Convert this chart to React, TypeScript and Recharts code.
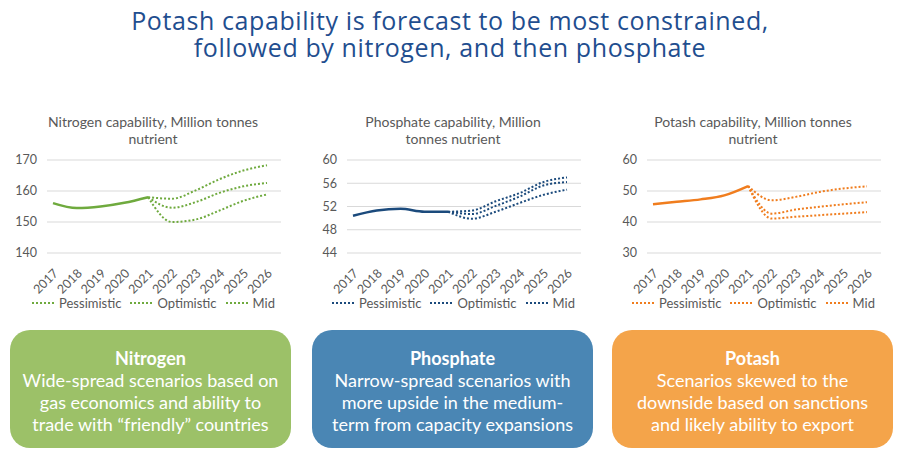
import { LineChart, Line, XAxis, YAxis, CartesianGrid, Legend } from 'recharts';

const years = ['2017', '2018', '2019', '2020', '2021', '2022', '2023', '2024', '2025', '2026'];

// Nitrogen, Mt nutrient
const nitrogenActual = [156.1, 154.5, 155, 156.2, 158, null, null, null, null, null];
const nitrogenPessimistic = [null, null, null, null, 158, 150, 150.8, 153.7, 156.8, 158.9];
const nitrogenOptimistic = [null, null, null, null, 158, 157.5, 160.2, 163.8, 166.6, 168.3];
const nitrogenMid = [null, null, null, null, 158, 154.6, 156.4, 159.4, 161.5, 162.6];

// Phosphate
const phosphateActual = [50.4, 51.3, 51.6, 51.1, 51.1, null, null, null, null, null];
const phosphatePessimistic = [null, null, null, null, 51.1, 49.9, 51.1, 52.6, 54.0, 54.9];
const phosphateOptimistic = [null, null, null, null, 51.1, 51.3, 52.9, 54.3, 56.2, 57.0];
const phosphateMid = [null, null, null, null, 51.1, 50.7, 52.1, 53.7, 55.6, 56.2];

// Potash
const potashActual = [45.7, 46.5, 47.3, 48.6, 51.6, null, null, null, null, null];
const potashPessimistic = [null, null, null, null, 51.6, 41.1, 41.7, 42.2, 42.7, 43.2];
const potashOptimistic = [null, null, null, null, 51.6, 47.0, 48.1, 49.7, 50.8, 51.5];
const potashMid = [null, null, null, null, 51.6, 42.7, 44.0, 44.9, 45.7, 46.4];

const nitrogenTicks = [140, 150, 160, 170];
const phosphateTicks = [44, 48, 52, 56, 60];
const potashTicks = [30, 40, 50, 60];

const scenarioNames = ['Pessimistic', 'Optimistic', 'Mid'];

const FONT = 'Lato, "Open Sans", sans-serif';
const GREY = '#595959';

function buildRows(actual: (number | null)[], pess: (number | null)[], opt: (number | null)[], mid: (number | null)[]) {
  return years.map((year, i) => ({
    year,
    actual: actual[i],
    Pessimistic: pess[i],
    Optimistic: opt[i],
    Mid: mid[i],
  }));
}

const YearTick = ({ x, y, payload }: any) => (
  <text
    x={0}
    y={0}
    transform={`translate(${x + 6}, ${y + 13}) rotate(-45)`}
    textAnchor="end"
    fontSize={12.5}
    fill={GREY}
    fontFamily={FONT}
  >
    {payload.value}
  </text>
);

const ScenarioLegend = ({ color }: { color: string }) => (
  <div style={{ display: 'flex', justifyContent: 'center', fontFamily: FONT, fontSize: 13, color: GREY }}>
    {scenarioNames.map((name) => (
      <div key={name} style={{ display: 'flex', alignItems: 'center', margin: '0 4px' }}>
        <svg width={24} height={6} style={{ marginRight: 4 }}>
          <line x1={1} y1={3} x2={24} y2={3} stroke={color} strokeWidth={2} strokeDasharray="2 2" />
        </svg>
        <span>{name}</span>
      </div>
    ))}
  </div>
);

interface PanelProps {
  left: number;
  title: string[];
  data: ReturnType<typeof buildRows>;
  domain: [number, number];
  ticks: number[];
  color: string;
}

function CapabilityPanel({ left, title, data, domain, ticks, color }: PanelProps) {
  return (
    <div style={{ position: 'absolute', left, top: 0, width: 300, height: 320 }}>
      <div
        style={{
          position: 'absolute',
          top: 113,
          left: 0,
          width: 306,
          textAlign: 'center',
          fontFamily: FONT,
          fontSize: 14,
          lineHeight: '17px',
          color: GREY,
        }}
      >
        {title.map((t) => (
          <div key={t}>{t}</div>
        ))}
      </div>
      <LineChart width={300} height={320} data={data} margin={{ top: 160, right: 19, bottom: 0, left: 0 }}>
        <CartesianGrid vertical={false} stroke="#d9d9d9" />
        <XAxis
          dataKey="year"
          axisLine={false}
          tickLine={false}
          height={67}
          interval={0}
          padding={{ left: 6, right: 14 }}
          tick={<YearTick />}
        />
        <YAxis
          width={47}
          domain={domain}
          ticks={ticks}
          axisLine={false}
          tickLine={false}
          tickSize={0}
          tickMargin={10}
          tick={{ fontSize: 12.5, fill: GREY, fontFamily: FONT }}
        />
        <Legend
          layout="horizontal"
          verticalAlign="middle"
          align="center"
          wrapperStyle={{ top: 295, left: 0, width: 306 }}
          content={() => <ScenarioLegend color={color} />}
        />
        <Line type="monotone" dataKey="actual" stroke={color} strokeWidth={2.5} dot={false} legendType="none" isAnimationActive={false} />
        {scenarioNames.map((name) => (
          <Line
            key={name}
            type="monotone"
            dataKey={name}
            stroke={color}
            strokeWidth={2}
            strokeDasharray="2 2"
            dot={false}
            isAnimationActive={false}
          />
        ))}
      </LineChart>
    </div>
  );
}

const boxes = [
  { left: 10, color: '#9CC168', heading: 'Nitrogen', lines: ['Wide-spread scenarios based on', 'gas economics and ability to', 'trade with \u201cfriendly\u201d countries'] },
  { left: 312, color: '#4A86B4', heading: 'Phosphate', lines: ['Narrow-spread scenarios with', 'more upside in the medium-', 'term from capacity expansions'] },
  { left: 612, color: '#F4A44A', heading: 'Potash', lines: ['Scenarios skewed to the', 'downside based on sanctions', 'and likely ability to export'] },
];

const headline = ['Potash capability is forecast to be most constrained,', 'followed by nitrogen, and then phosphate'];

export default function App() {
  return (
    <div style={{ position: 'absolute', left: 0, top: 0, width: 900, height: 457, background: '#ffffff', overflow: 'hidden' }}>
      {headline.map((line, i) => (
        <div
          key={line}
          style={{
            position: 'absolute',
            top: 7 + i * 27,
            left: 0,
            width: 900,
            height: 27,
            textAlign: 'center',
            fontFamily: '"Open Sans", Lato, sans-serif',
            fontSize: 25,
            letterSpacing: 0.6,
            lineHeight: '27px',
            color: '#1F4E8F',
          }}
        >
          {line}
        </div>
      ))}

      <CapabilityPanel
        left={0}
        title={['Nitrogen capability, Million tonnes', 'nutrient']}
        data={buildRows(nitrogenActual, nitrogenPessimistic, nitrogenOptimistic, nitrogenMid)}
        domain={[140, 170]}
        ticks={nitrogenTicks}
        color="#6FAA3E"
      />
      <CapabilityPanel
        left={300}
        title={['Phosphate capability, Million', 'tonnes nutrient']}
        data={buildRows(phosphateActual, phosphatePessimistic, phosphateOptimistic, phosphateMid)}
        domain={[44, 60]}
        ticks={phosphateTicks}
        color="#1B4A7C"
      />
      <CapabilityPanel
        left={600}
        title={['Potash capability, Million tonnes', 'nutrient']}
        data={buildRows(potashActual, potashPessimistic, potashOptimistic, potashMid)}
        domain={[30, 60]}
        ticks={potashTicks}
        color="#F07D1E"
      />

      {boxes.map((b) => (
        <div
          key={b.heading}
          style={{
            position: 'absolute',
            left: b.left,
            top: 330,
            width: 281,
            height: 118,
            borderRadius: 20,
            background: b.color,
            color: '#ffffff',
            fontFamily: FONT,
            fontSize: 18,
            lineHeight: '22px',
            textAlign: 'center',
            paddingTop: 17,
            boxSizing: 'border-box',
          }}
        >
          <div style={{ fontWeight: 700 }}>{b.heading}</div>
          {b.lines.map((l) => (
            <div key={l}>{l}</div>
          ))}
        </div>
      ))}
    </div>
  );
}
